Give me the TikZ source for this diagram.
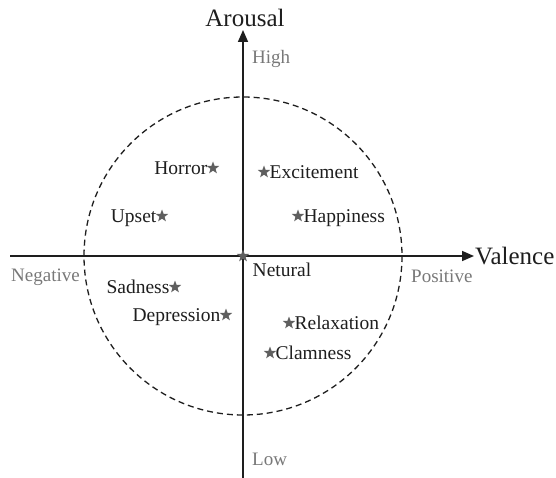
\documentclass[tikz,border=0pt]{standalone}
\usepackage{fontspec}
\setmainfont{Liberation Serif}
\usetikzlibrary{shapes.geometric,arrows.meta}
\definecolor{stargray}{RGB}{95,95,95}
\definecolor{lblgray}{RGB}{120,120,120}
\definecolor{ink}{RGB}{30,30,30}
\tikzset{
  emo/.style={star,star points=5,star point ratio=2.4,fill=stargray,draw=none,minimum size=13pt,inner sep=0pt},
  lbl/.style={font=\fontsize{19.5}{20}\selectfont,text=ink,inner sep=1.5pt},
  lblE/.style={lbl,anchor=base east},
  lblW/.style={lbl,anchor=base west},
  pole/.style={font=\fontsize{19}{19}\selectfont,text=lblgray,inner sep=0pt},
  axislbl/.style={font=\fontsize{25}{25}\selectfont,text=ink,inner sep=0pt},
  axis/.style={line width=1.6pt,draw=ink,-{Triangle[length=12pt,width=10pt]}},
  ring/.style={line width=1.3pt,draw=ink,dash pattern=on 6pt off 4pt}
}
\begin{document}
\begin{tikzpicture}[x=1pt,y=-1pt]
\useasboundingbox (0,0) rectangle (556,478);
% axes
\coordinate (vb) at (243,478);
\coordinate (vt) at (243,30);
\coordinate (hl) at (10,256);
\coordinate (hr) at (474,256);
\draw[ring] (243,256) circle[radius=159];
\draw[axis] (vb) -- (vt);
\draw[axis] (hl) -- (hr);
% axis labels
\node[axislbl,anchor=base] (arousal) at (245,27) {Arousal};
\node[axislbl,anchor=base west] (valence) at (475,264) {Valence};
\node[pole,anchor=base west] (high) at (252,64) {High};
\node[pole,anchor=base west] (low) at (252,465) {Low};
\node[pole,anchor=base west] (neg) at (11,281) {Negative};
\node[pole,anchor=base west] (pos) at (411,282) {Positive};
% emotions
\node[emo] (s0) at (243,256) {};
\node[lblW] (t0) at (251,276) {Netural};
\node[emo] (s1) at (213,168) {};
\node[lblE] (t1) at ([yshift=-6.5pt]s1.west) {Horror};
\node[emo] (s2) at (264,172) {};
\node[lblW] (t2) at ([yshift=-6.5pt]s2.east) {Excitement};
\node[emo] (s3) at (162,216) {};
\node[lblE] (t3) at ([yshift=-6.5pt]s3.west) {Upset};
\node[emo] (s4) at (298,216) {};
\node[lblW] (t4) at ([yshift=-6.5pt]s4.east) {Happiness};
\node[emo] (s5) at (175,287) {};
\node[lblE] (t5) at ([yshift=-6.5pt]s5.west) {Sadness};
\node[emo] (s6) at (226,315) {};
\node[lblE] (t6) at ([yshift=-6.5pt]s6.west) {Depression};
\node[emo] (s7) at (289,323) {};
\node[lblW] (t7) at ([yshift=-6.5pt]s7.east) {Relaxation};
\node[emo] (s8) at (270,353) {};
\node[lblW] (t8) at ([yshift=-6.5pt]s8.east) {Clamness};
\end{tikzpicture}
\end{document}
